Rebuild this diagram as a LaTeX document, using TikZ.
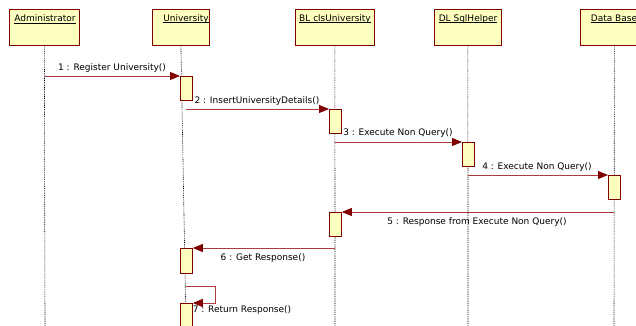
\documentclass[tikz,border=0pt]{standalone}
\usepackage{fontspec}
\setmainfont{DejaVu Sans}
\usetikzlibrary{arrows.meta}
\definecolor{objfill}{HTML}{FFFFC0}
\definecolor{objline}{HTML}{800000}
\definecolor{msgline}{HTML}{B03A3A}
% tight underline for object names
\newcommand\objname[1]{\setbox0\hbox{#1}\rlap{\raisebox{-1.3pt}{\rule{\wd0}{0.5pt}}}\box0}
\begin{document}
\begin{tikzpicture}[x=1pt,y=-1pt,
  headbox/.style={draw=objline,fill=objfill,line width=0.8pt,anchor=north west,inner sep=0pt},
  headlabel/.style={font=\fontsize{9}{10}\selectfont,inner sep=0pt},
  actbox/.style={draw=objline,fill=objfill,line width=0.8pt,anchor=north west,inner sep=0pt,minimum width=12pt},
  lifeline/.style={draw=black,line width=0.6pt,dash pattern=on 0.9pt off 0.9pt},
  msg/.style={draw=msgline,line width=0.8pt,-{Triangle[length=10pt,width=8pt,fill=objline,color=objline]}},
  msglabel/.style={font=\fontsize{9}{10}\selectfont,inner sep=0pt}]
\useasboundingbox[fill=white] (0,0) rectangle (636,326);

% object heads
\node[headbox,minimum width=70pt,minimum height=36pt] (admin) at (9,9) {};
\node[headbox,minimum width=57pt,minimum height=36pt] (univ) at (152,9) {};
\node[headbox,minimum width=79pt,minimum height=36pt] (bl) at (295,9) {};
\node[headbox,minimum width=67pt,minimum height=36pt] (dl) at (434,9) {};
\node[headbox,minimum width=68pt,minimum height=36pt] (db) at (580,9) {};

\node[headlabel] (adminl) at (45,19) {\objname{Administrator}};
\node[headlabel] (univl) at (186,19) {\objname{University}};
\node[headlabel] (bll) at (335,19) {\objname{BL clsUniversity}};
\node[headlabel] (dll) at (468,19) {\objname{DL SqlHelper}};
\node[headlabel] (dbl) at (614,19) {\objname{Data Base}};

% lifelines
\coordinate (adminE) at (45,326);
\coordinate (univE) at (186,326);
\coordinate (blE) at (335,326);
\coordinate (dlE) at (468,326);
\coordinate (dbE) at (614,326);
\draw[lifeline] (admin.south) -- (adminE);
\draw[lifeline] (univ.south) -- (univE);
\draw[lifeline] (bl.south) -- (blE);
\draw[lifeline] (dl.south) -- (dlE);
\draw[lifeline] (db.south) -- (dbE);

% activations
\node[actbox,minimum height=24pt] (u1) at (180,76) {};
\node[actbox,minimum height=24pt] (b1) at (329,109) {};
\node[actbox,minimum height=24pt] (d1) at (462,142) {};
\node[actbox,minimum height=24pt] (x1) at (608,175) {};
\node[actbox,minimum height=24pt] (b2) at (329,212) {};
\node[actbox,minimum height=25pt] (u2) at (180,248) {};
\node[actbox,minimum height=30pt] (u3) at (180,303) {};

% messages
\coordinate (m1s) at (45,76);
\coordinate (m2s) at (186,109);
\coordinate (m3s) at (335,142);
\coordinate (m4s) at (468,175);
\coordinate (m5s) at (614,212);
\coordinate (m6s) at (335,248);
\coordinate (m7s) at (186,286);
\coordinate (m7a) at (215,286);
\coordinate (m7b) at (215,303);

\draw[msg] (m1s) -- (u1.north west);
\draw[msg] (m2s) -- (b1.north west);
\draw[msg] (m3s) -- (d1.north west);
\draw[msg] (m4s) -- (x1.north west);
\draw[msg] (m5s) -- (b2.north east);
\draw[msg] (m6s) -- (u2.north east);
\draw[msg] (m7s) -- (m7a) -- (m7b) -- (u3.north east);

\node[msglabel] (l1) at (112,68) {1 : Register University()};
\node[msglabel] (l2) at (257,101) {2 : InsertUniversityDetails()};
\node[msglabel] (l3) at (398,133) {3 : Execute Non Query()};
\node[msglabel] (l4) at (537,167) {4 : Execute Non Query()};
\node[msglabel] (l5) at (477,222) {5 : Response from Execute Non Query()};
\node[msglabel] (l6) at (263,258) {6 : Get Response()};
\node[msglabel] (l7) at (242,310) {7 : Return Response()};
\end{tikzpicture}
\end{document}
